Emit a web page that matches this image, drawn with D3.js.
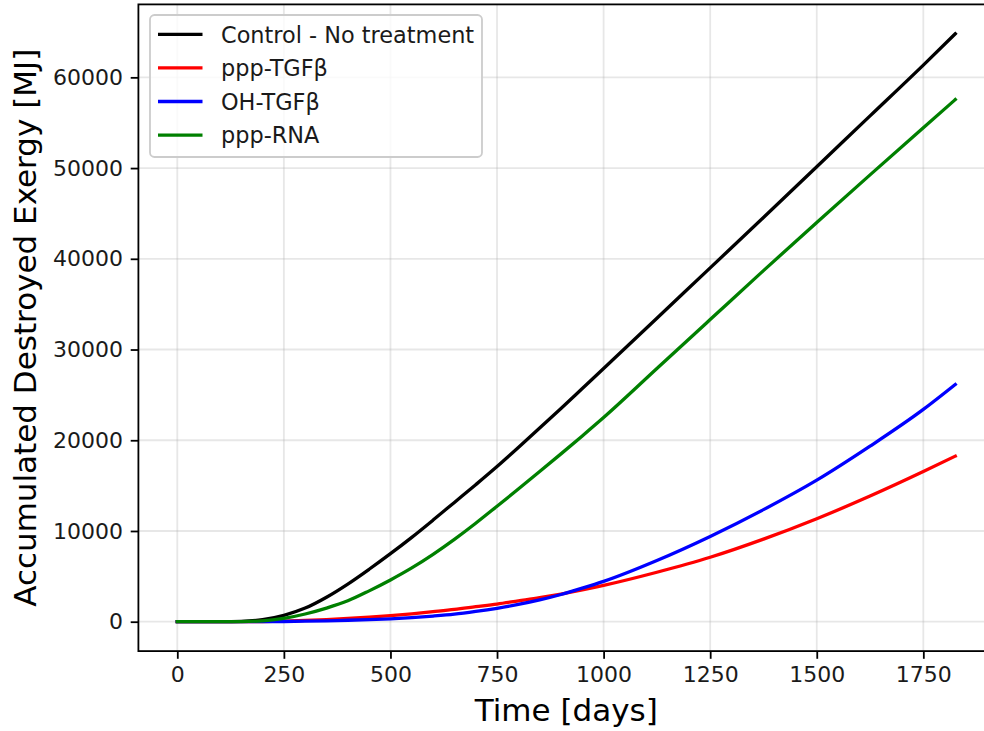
<!DOCTYPE html>
<html>
<head>
<meta charset="utf-8">
<script src="https://cdn.jsdelivr.net/npm/d3@7"></script>
<style>
  body { margin: 0; background: #fff; }
  svg { display: block; font-family: "DejaVu Sans", sans-serif; }
</style>
</head>
<body>
<div id="chart"></div>
<script>
// time axis (days) shared by every series
const days = [0, 50, 100, 150, 200, 250, 300, 350, 400, 450, 500, 550, 600, 650, 700, 750,
  800, 850, 900, 950, 1000, 1125, 1250, 1375, 1500, 1625, 1750, 1825];

// accumulated destroyed exergy [MJ]
const control = [0, 0, 5, 40, 220, 700, 1500, 2700, 4150, 5780, 7500, 9300, 11200, 13150, 15100, 17100,
  19200, 21350, 23500, 25700, 27900, 33450, 39000, 44550, 50150, 55750, 61350, 64800];
const pppTGF = [0, 0, 1, 5, 20, 70, 140, 240, 360, 500, 660, 860, 1100, 1350, 1650, 1950,
  2300, 2650, 3050, 3500, 4000, 5450, 7100, 9100, 11350, 13850, 16550, 18250];
const ohTGF = [0, 0, 0, 2, 8, 25, 55, 100, 160, 230, 320, 450, 620, 830, 1130, 1480,
  1900, 2400, 3000, 3700, 4450, 6750, 9400, 12350, 15600, 19350, 23400, 26150];
const pppRNA = [0, 0, 2, 15, 90, 370, 850, 1500, 2300, 3400, 4600, 5925, 7425, 9075, 10850, 12725,
  14620, 16550, 18500, 20480, 22500, 27900, 33300, 38700, 44000, 49250, 54450, 57550];

const seriesNames = ["Control - No treatment", "ppp-TGFβ", "OH-TGFβ", "ppp-RNA"];
const seriesValues = [control, pppTGF, ohTGF, pppRNA];
const seriesColors = ["#000000", "#ff0000", "#0000ff", "#008000"];

const xTicks = [0, 250, 500, 750, 1000, 1250, 1500, 1750];
const yTicks = [0, 10000, 20000, 30000, 40000, 50000, 60000];

const W = 984, H = 731;
const plot = { left: 138.4, right: 994.2, top: 4.4, bottom: 651.1 };

const svg = d3.select("#chart").append("svg")
  .attr("width", W)
  .attr("height", H);

// matplotlib-style 5% margins around the data range
const x = d3.scaleLinear().domain([-91.25, 1916.25]).range([plot.left, plot.right]);
const y = d3.scaleLinear().domain([-3240, 68040]).range([plot.bottom, plot.top]);

// Grid
const grid = svg.append("g").attr("stroke", "#b0b0b0").attr("stroke-opacity", 0.3).attr("stroke-width", 1.8);
grid.selectAll("line.v").data(xTicks).join("line")
  .attr("x1", d => x(d)).attr("x2", d => x(d))
  .attr("y1", plot.top).attr("y2", plot.bottom);
grid.selectAll("line.h").data(yTicks).join("line")
  .attr("x1", plot.left).attr("x2", plot.right)
  .attr("y1", d => y(d)).attr("y2", d => y(d));

// Lines
const line = d3.line()
  .x(d => x(d[0]))
  .y(d => y(d[1]))
  .curve(d3.curveMonotoneX);

seriesValues.forEach((vals, i) => {
  svg.append("path")
    .datum(days.map((t, j) => [t, vals[j]]))
    .attr("fill", "none")
    .attr("stroke", seriesColors[i])
    .attr("stroke-width", 3.3)
    .attr("stroke-linejoin", "round")
    .attr("stroke-linecap", "square")
    .attr("d", line);
});

// Axes
const xAxis = d3.axisBottom(x).tickValues(xTicks).tickSize(7.7).tickPadding(7.7).tickFormat(d3.format("d"));
const yAxis = d3.axisLeft(y).tickValues(yTicks).tickSize(7.7).tickPadding(7.7).tickFormat(d3.format("d"));

const gx = svg.append("g").attr("transform", `translate(0, ${plot.bottom})`).call(xAxis);
const gy = svg.append("g").attr("transform", `translate(${plot.left}, 0)`).call(yAxis);
[gx, gy].forEach(g => {
  g.select(".domain").remove();
  g.selectAll("line").attr("stroke", "#000").attr("stroke-width", 1.8);
  g.selectAll("text").attr("fill", "#1a1a1a").style("font-size", "22px").style("font-family", "DejaVu Sans");
});

// Spines
svg.append("rect")
  .attr("x", plot.left).attr("y", plot.top)
  .attr("width", plot.right - plot.left).attr("height", plot.bottom - plot.top)
  .attr("fill", "none").attr("stroke", "#000").attr("stroke-width", 1.8);

// Axis labels
svg.append("text")
  .attr("x", (plot.left + plot.right) / 2)
  .attr("y", 721)
  .attr("text-anchor", "middle")
  .style("font-size", "31px")
  .text("Time [days]");

svg.append("text")
  .attr("transform", `translate(36, ${(plot.top + plot.bottom) / 2}) rotate(-90)`)
  .attr("text-anchor", "middle")
  .style("font-size", "31px")
  .text("Accumulated Destroyed Exergy [MJ]");

// Legend
const legend = svg.append("g");
legend.append("rect")
  .attr("x", 150).attr("y", 15)
  .attr("width", 332).attr("height", 142)
  .attr("rx", 4.5)
  .attr("fill", "#fff").attr("fill-opacity", 0.8)
  .attr("stroke", "#cccccc").attr("stroke-width", 1.8);

const rows = legend.selectAll("g.row").data(seriesNames).join("g")
  .attr("transform", (d, i) => `translate(0, ${34.3 + i * 33.6})`);
rows.append("line")
  .attr("x1", 158).attr("x2", 202.5)
  .attr("stroke", (d, i) => seriesColors[i])
  .attr("stroke-width", 3.3);
rows.append("text")
  .attr("x", 221)
  .attr("y", 8.3)
  .style("font-size", "22.4px")
  .attr("fill", "#1a1a1a")
  .text(d => d);
</script>
</body>
</html>
